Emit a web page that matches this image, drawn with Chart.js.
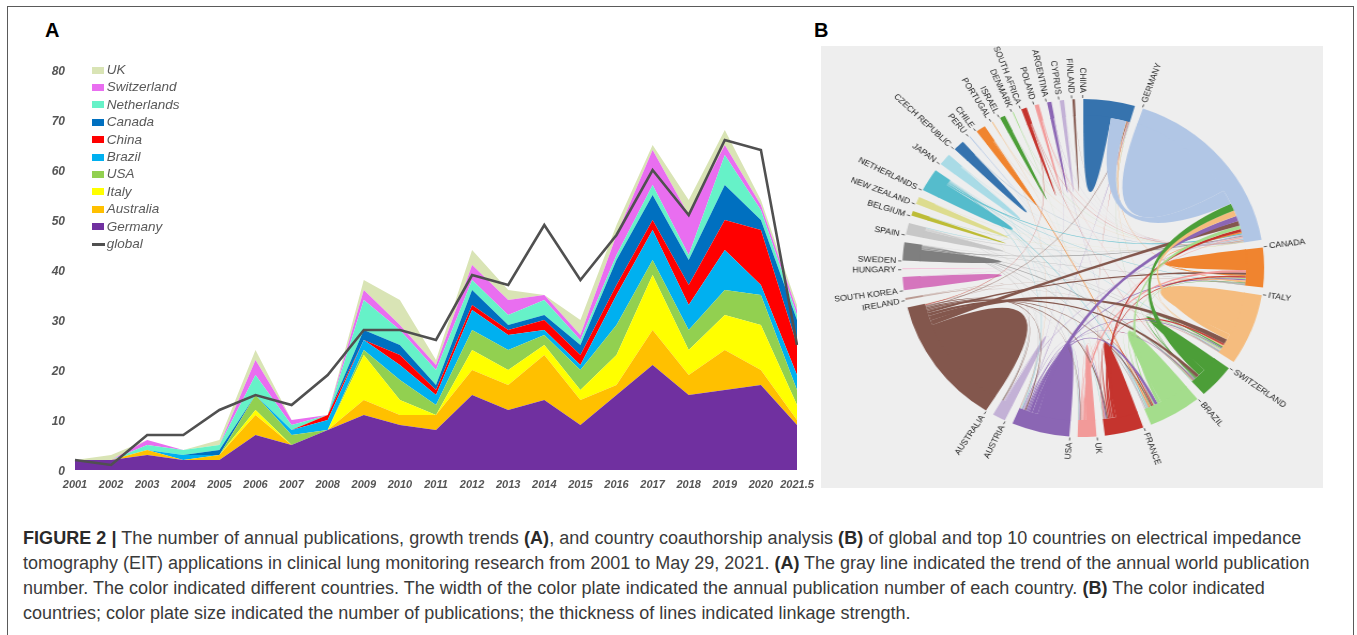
<!DOCTYPE html>
<html><head><meta charset="utf-8">
<style>
html,body{margin:0;padding:0;background:#fff;width:1357px;height:635px;overflow:hidden;font-family:"Liberation Sans",Arial,sans-serif}
#frame{position:absolute;left:7px;top:6px;width:1347px;height:640px;border:1.5px solid #5a5a5a;box-sizing:border-box}
.letter{position:absolute;font-weight:bold;font-size:20px;line-height:20px;color:#000}
#panelB{position:absolute;left:821px;top:46px;width:502px;height:442px;background:#eeeeee;overflow:hidden}
#chartB{position:absolute;left:0;top:0;transform:scaleX(1.0704);transform-origin:0 0;filter:blur(.35px)}
#chartA{position:absolute;left:30px;top:50px;filter:blur(.3px)}
.cap{position:absolute;left:23px;font-size:18px;line-height:20px;color:#3a3a3a;white-space:nowrap}
.cap b{color:#2a2a2a}
</style>
<script src="https://cdn.jsdelivr.net/npm/chart.js@4"></script>
</head><body>
<div id="frame"></div>
<div class="letter" style="left:45px;top:20px">A</div>
<div class="letter" style="left:814px;top:20px">B</div>
<canvas id="chartA" width="800" height="450"></canvas>
<div id="panelB"><canvas id="chartB" width="469" height="442"></canvas></div>
<div class="cap" style="top:528px;letter-spacing:.05px"><b>FIGURE 2 |</b> The number of annual publications, growth trends <b>(A)</b>, and country coauthorship analysis <b>(B)</b> of global and top 10 countries on electrical impedance</div>
<div class="cap" style="top:553px">tomography (EIT) applications in clinical lung monitoring research from 2001 to May 29, 2021. <b>(A)</b> The gray line indicated the trend of the annual world publication</div>
<div class="cap" style="top:578px;letter-spacing:.03px">number. The color indicated different countries. The width of the color plate indicated the annual publication number of each country. <b>(B)</b> The color indicated</div>
<div class="cap" style="top:603px">countries; color plate size indicated the number of publications; the thickness of lines indicated linkage strength.</div>
<script>
// ---------- Panel A data ----------
const years = ['2001','2002','2003','2004','2005','2006','2007','2008','2009','2010','2011','2012','2013','2014','2015','2016','2017','2018','2019','2020','2021.5'];
const germany     = [2,2,3,2,2,7,5,8,11,9,8,15,12,14,9,15,21,15,16,17,9];
const australia   = [0,0,1,0,1,4,0,0,3,2,3,5,5,9,5,2,7,4,8,3,1];
const italy       = [0,0,0,0,0,1,0,0,9,3,0,4,3,2,2,6,11,5,7,9,3];
const usa         = [0,0,0,0,0,3,2,0,1,4,2,4,4,2,4,6,3,4,5,6,3];
const brazil      = [0,0,0,1,0,0,1,2,2,3,2,4,3,1,1,6,6,5,8,2,3];
const china       = [0,0,0,0,0,0,0,1,0,2,1,1,1,2,2,2,2,4,6,11,6];
const canada      = [0,0,0,0,1,0,0,0,2,2,1,3,1,1,2,5,5,5,7,2,5];
const netherlands = [0,0,1,1,1,4,1,0,6,3,3,2,2,3,1,1,2,1,6,2,1];
const switzerland = [0,0,1,0,0,3,1,0,2,1,1,3,3,1,1,4,7,8,2,1,1];
const uk          = [0,1,0,0,1,2,0,0,2,5,1,3,2,0,3,2,1,3,3,1,1];
const globalPubs  = [2,1,7,7,12,15,13,19,28,28,26,39,37,49,38,47,60,51,66,64,25];
const yTicks = [0,10,20,30,40,50,60,70,80];
const stackNames  = ['Germany','Australia','Italy','USA','Brazil','China','Canada','Netherlands','Switzerland','UK'];
const stackValues = [germany,australia,italy,usa,brazil,china,canada,netherlands,switzerland,uk];
const stackColors = ['#7030a0','#ffc000','#ffff00','#92d050','#00b0f0','#ff0000','#0070c0','#66f2c8','#e96ef0','#d9e4b5'];
const globalColor = '#505050';

// ---------- Panel B data ----------
const chordCountries = ['CHINA','GERMANY','CANADA','ITALY','SWITZERLAND','BRAZIL','FRANCE','UK','USA','AUSTRIA','AUSTRALIA','IRELAND','SOUTH KOREA','HUNGARY','SWEDEN','SPAIN','BELGIUM','NEW ZEALAND','NETHERLANDS','JAPAN','CZECH REPUBLIC','PERU','CHILE','PORTUGAL','ISRAEL','DENMARK','SOUTH AFRICA','POLAND','ARGENTINA','CYPRUS','FINLAND'];
const chordSizes = [16.6,61.1,13.6,24.5,11.8,17.1,12.5,6,18.6,4.2,43.9,0.7,4.5,0.3,6.2,4,1.6,2.5,7.8,4.1,3.6,0.3,3.1,0.3,1.7,0.3,1.8,1.4,1.4,1.4,0.8];
const chordColors = ['#3673ae','#b1c6e5','#f0842f','#f5bc7e','#4c9e38','#a4dd8c','#c5342e','#f29a99','#8b66b4','#c3b1d6','#83574d','#bb9b93','#d575bd','#f6bcd6','#7f7f7f','#c7c7c7','#bdbc36','#dddc8e','#55bccc','#a9dbe6'];
// [country index, country index, link strength]
const chordLinks = [
 [0,1,5.5],[0,2,.3],[0,10,.3],[0,6,.2],[0,3,.2],[0,4,.1],[0,8,.2],
 [1,4,2.8],[1,3,2.2],[1,8,2.0],[1,10,1.8],[1,5,1.3],[1,6,1.1],[1,2,.6],[1,18,.5],[1,9,.4],[1,14,.35],[1,15,.25],[1,7,.3],[1,12,.15],[1,20,.15],[1,19,.15],[1,27,.3],[1,23,.15],[1,26,.15],[1,24,.1],[1,25,.1],[1,28,.1],[1,29,.1],[1,30,.1],[1,16,.1],[1,17,.1],
 [2,7,.9],[2,10,.8],[2,6,.6],[2,5,.5],[2,8,.5],[2,3,.5],[2,4,.3],[2,11,.3],[2,18,.2],[2,14,.2],[2,22,.1],
 [3,10,1.8],[3,6,.7],[3,4,.5],[3,8,.4],[3,5,.4],[3,7,.2],[3,18,.2],[3,15,.25],[3,14,.2],[3,11,.2],[3,27,.15],
 [4,10,1.2],[4,8,.3],[4,14,.3],[4,26,.2],[4,6,.2],[4,5,.2],[4,18,.15],
 [5,8,1.1],[5,6,.5],[5,10,.5],[5,7,.3],[5,18,.3],[5,22,.4],[5,19,.2],[5,14,.2],[5,15,.2],[5,21,.15],[5,23,.1],[5,28,.1],
 [6,8,.4],[6,10,.5],[6,7,.3],[6,18,.15],[6,25,.1],
 [7,10,.25],[7,8,.2],[7,18,.15],[7,14,.15],
 [8,10,.4],[8,9,.3],[8,18,.2],[8,15,.2],[8,19,.2],[8,14,.15],[8,22,.15],[8,28,.1],
 [9,10,.3],[9,14,.2],
 [10,26,.25],[10,11,.2],[10,17,.15],
 [14,15,.15],[15,18,.15],[16,18,.1],[18,19,.15]
];

// ---------- Panel A chart ----------
function swatch(color, w, h){
  const c = document.createElement('canvas'); c.width = w; c.height = h;
  const x = c.getContext('2d'); x.fillStyle = color; x.fillRect(0,0,w,h); return c;
}
const tickFont = {family:'"Liberation Sans",Arial,sans-serif', weight:'bold', style:'italic'};
const moveLegend = {id:'moveLegend', afterLayout(chart){
  chart.legend.left = 62; chart.legend.top = 9.5;
}};
new Chart(document.getElementById('chartA'), {
  type:'line',
  data:{labels:years, datasets:[
    ...stackNames.map((n,i)=>({label:n,data:stackValues[i],stack:'countries',backgroundColor:stackColors[i],borderColor:stackColors[i],borderWidth:0,pointRadius:0,tension:0,fill:i===0?'origin':'-1'})),
    {label:'global',data:globalPubs,stack:'world',borderColor:globalColor,backgroundColor:globalColor,borderWidth:2.6,pointRadius:0,tension:0,fill:false,order:-1}
  ]},
  options:{
    responsive:false, animation:false,
    layout:{padding:{top:20,right:33,left:0,bottom:0}},
    scales:{
      x:{grid:{display:false},border:{display:false},offset:false,
         ticks:{color:'#555',font:{...tickFont,size:11},maxRotation:0,autoSkip:false,padding:0},
         afterFit(s){s.height=30;}},
      y:{stacked:true,min:0,max:80,grid:{display:false},border:{display:false},
         afterBuildTicks(s){s.ticks=yTicks.map(v=>({value:v}));},
         ticks:{color:'#555',font:{...tickFont,size:12},padding:2,labelOffset:1.5},
         afterFit(s){s.width=45;}}
    },
    plugins:{
      tooltip:{enabled:false},
      legend:{position:'chartArea',align:'start',
        labels:{usePointStyle:true,pointStyleWidth:4,boxHeight:7,padding:3.9,color:'#595959',
          font:{family:'"Liberation Sans",Arial,sans-serif',style:'italic',size:13.5},
          generateLabels(chart){
            const items = chart.data.datasets.map((d,i)=>({text:d.label,datasetIndex:i,hidden:false,lineWidth:0,
              strokeStyle:'transparent',fillStyle:d.backgroundColor,fontColor:'#595959',
              pointStyle:d.label==='global'?swatch(globalColor,15,3):swatch(d.backgroundColor,13,7)}));
            const g = items.pop(); items.reverse(); items.push(g); return items;
          }}
      }
    }
  },
  plugins:[moveLegend]
});

// ---------- Panel B chart ----------
const gapSize = (360 - chordSizes.reduce((a,b)=>a+b,0)) / chordSizes.length;
const colorOf = i => chordColors[i % chordColors.length];
const chordPlugin = {
  id:'chord',
  afterDatasetsDraw(chart){
    const arcs = chart.getDatasetMeta(0).data;
    const ctx = chart.ctx, cx = arcs[0].x, cy = arcs[0].y, r = arcs[0].innerRadius;
    const rad = d => d*Math.PI/180;
    // allocate each country's arc: self link first, others by descending strength
    const slots = chordCountries.map(()=>[]);
    chordLinks.forEach((l,k)=>{ slots[l[0]].push({k,v:l[2]}); slots[l[1]].push({k,v:l[2]}); });
    const ends = {}, selfs = [];
    slots.forEach((list,i)=>{
      const a = arcs[i*2];
      let used = list.reduce((s,o)=>s+o.v,0);
      let pos = a.startAngle;
      const selfV = Math.max(0, chordSizes[i]-used);
      selfs.push([i,pos,pos+rad(selfV)]);
      pos += rad(selfV);
      list.sort((p,q)=>q.v-p.v).forEach(o=>{
        const e=[pos,pos+rad(o.v)]; pos=e[1];
        (ends[o.k]=ends[o.k]||{})[i]=e;
      });
    });
    const pt = (t,q=r) => [cx+q*Math.cos(t), cy+q*Math.sin(t)];
    ctx.save();
    selfs.forEach(([i,s,e])=>{
      // slightly past the ring's inner edge so no seam shows between them
      ctx.beginPath(); ctx.arc(cx,cy,r+1,s,e);
      const p = pt(s,r+1); ctx.quadraticCurveTo(cx,cy,p[0],p[1]); ctx.closePath();
      ctx.fillStyle = colorOf(i); ctx.fill();
    });
    chordLinks.map((l,k)=>({l,k})).sort((p,q)=>p.l[2]-q.l[2]).forEach(({l,k})=>{
      const A = ends[k][l[0]], B = ends[k][l[1]];
      ctx.beginPath(); ctx.arc(cx,cy,r,A[0],A[1]);
      const b0 = pt(B[0]); ctx.quadraticCurveTo(cx,cy,b0[0],b0[1]);
      ctx.arc(cx,cy,r,B[0],B[1]);
      const a0 = pt(A[0]); ctx.quadraticCurveTo(cx,cy,a0[0],a0[1]); ctx.closePath();
      ctx.globalAlpha = l[2]>=.8 ? 1 : l[2]>=.4 ? .9 : l[2]>=.2 ? .75 : .5;
      ctx.fillStyle = colorOf(Math.max(l[0],l[1])); ctx.fill();
    });
    ctx.globalAlpha = 1;
    // tick + label at each arc's start
    const R = arcs[0].outerRadius;
    ctx.font = '8.2px "Liberation Sans",Arial,sans-serif';
    ctx.fillStyle = '#222'; ctx.strokeStyle = '#444'; ctx.lineWidth = .8; ctx.textBaseline='middle';
    chordCountries.forEach((name,i)=>{
      const t = arcs[i*2].startAngle - rad(.2);
      ctx.save(); ctx.translate(cx,cy); ctx.rotate(t);
      ctx.beginPath(); ctx.moveTo(R+1,0); ctx.lineTo(R+4,0); ctx.stroke();
      const deg = ((t+Math.PI/2)*180/Math.PI+360)%360;
      if (deg>180){ ctx.translate(R+6,0); ctx.rotate(Math.PI); ctx.textAlign='right'; ctx.fillText(name,0,0); }
      else { ctx.textAlign='left'; ctx.fillText(name,R+6,0); }
      ctx.restore();
    });
    ctx.restore();
  }
};
new Chart(document.getElementById('chartB'), {
  type:'doughnut',
  data:{labels:chordCountries.flatMap(c=>[c,'']),
    datasets:[{data:chordSizes.flatMap(s=>[s,gapSize]),
      backgroundColor:chordCountries.flatMap((c,i)=>[colorOf(i),'rgba(0,0,0,0)']),borderWidth:0}]},
  options:{responsive:false,animation:false,cutout:'90%',rotation:0,
    layout:{padding:{top:53,bottom:51,left:76,right:55}},
    plugins:{legend:{display:false},tooltip:{enabled:false}}},
  plugins:[chordPlugin]
});
</script>
</body></html>
